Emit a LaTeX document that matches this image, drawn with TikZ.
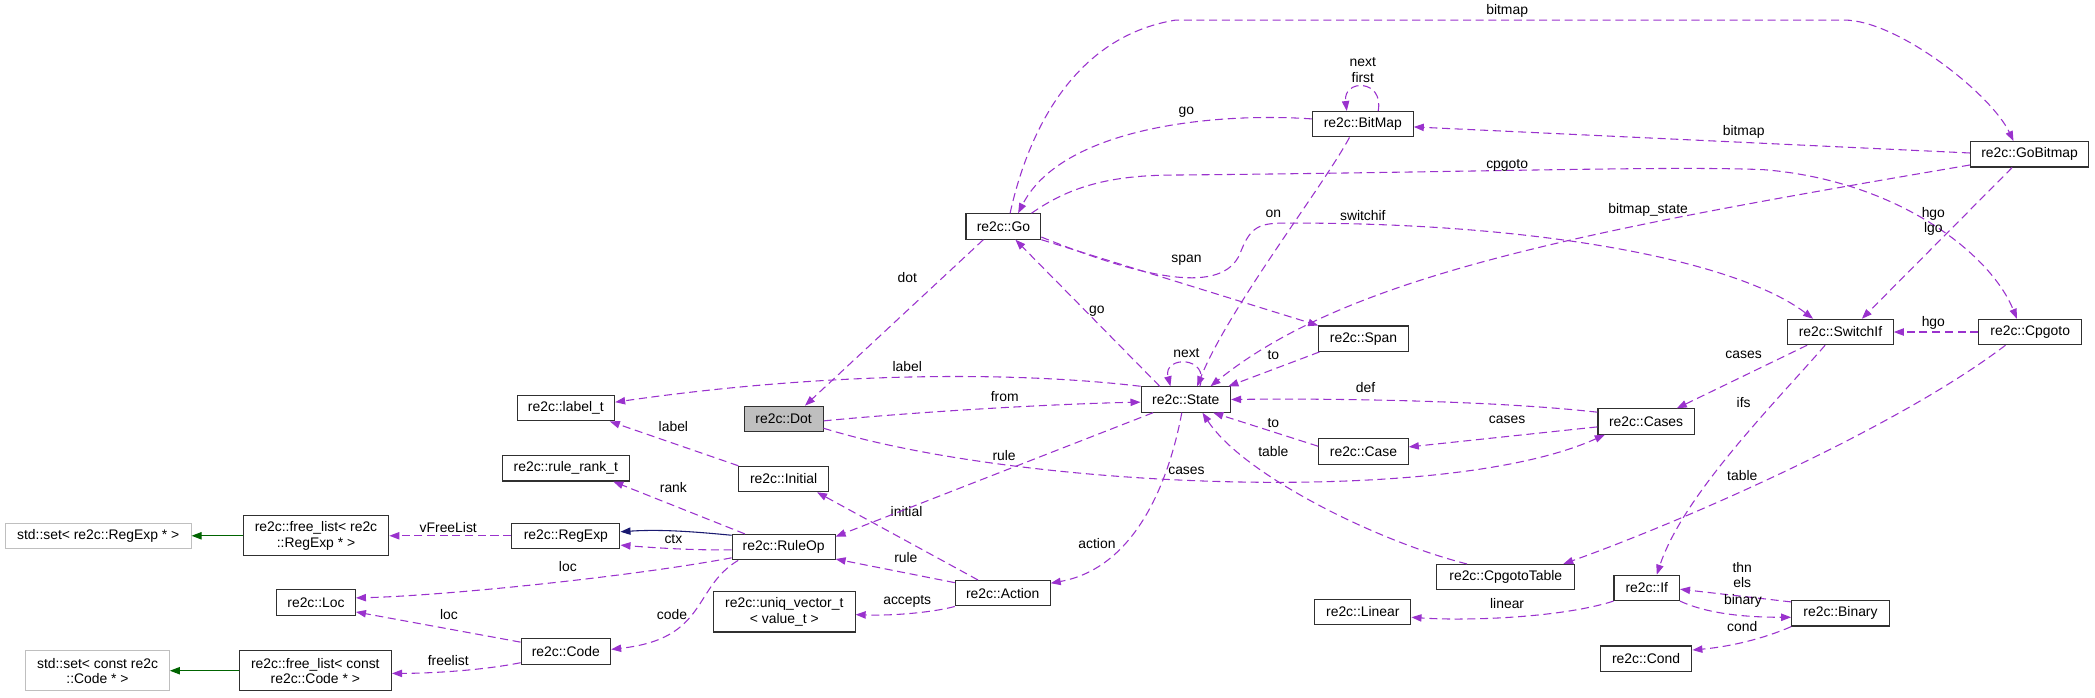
\documentclass[tikz,border=0pt]{standalone}
\usepackage{fontspec}
\newfontfamily\dxfont{Liberation Sans}
\usetikzlibrary{arrows.meta}
\definecolor{dxpurple}{HTML}{9A32CD}
\definecolor{dxnavy}{HTML}{191970}
\definecolor{dxgreen}{HTML}{006400}
\definecolor{dxgrey}{HTML}{BFBFBF}
\definecolor{dxframe}{HTML}{303030}

\begin{document}
\begin{tikzpicture}[x=1pt,y=-1pt,
  font=\dxfont\fontsize{10.4}{11.5}\selectfont,
  cls/.style={draw=dxframe,line width=0.8pt,fill=white,inner sep=2pt,
              minimum height=19pt,align=center},
  extcls/.style={cls,draw=dxgrey},
  rootcls/.style={cls,fill=dxgrey},
  mem/.style={draw=dxpurple,line width=0.8pt,dash pattern=on 6pt off 3.5pt,
              -{Triangle[length=7.5pt,width=5.5pt]}},
  inh/.style={draw=dxnavy,line width=0.8pt,-{Triangle[length=7.5pt,width=5.5pt]}},
  tmpl/.style={draw=dxgreen,line width=0.8pt,-{Triangle[length=7.5pt,width=5.5pt]}},
  lbl/.style={inner sep=0pt,align=center},
]
\useasboundingbox (0,0) rectangle (1568,521.7);
% classes
\node[extcls,minimum width=139pt] (setRegExp) at (73.5,401) {std::set< re2c::RegExp * >};
\node[cls,minimum width=109pt,minimum height=30pt] (flRegExp) at (236.5,401) {re2c::free\_list< re2c\\::RegExp * >};
\node[cls,minimum width=81pt] (RegExp) at (423.5,401) {re2c::RegExp};
\node[cls,minimum width=77pt] (RuleOp) at (586.5,409.5) {re2c::RuleOp};
\node[cls,minimum width=95pt] (rankT) at (423.5,350.5) {re2c::rule\_rank\_t};
\node[cls,minimum width=73pt] (labelT) at (423.5,305.5) {re2c::label\_t};
\node[rootcls,minimum width=59pt] (Dot) at (586.5,313.5) {re2c::Dot};
\node[cls,minimum width=67pt] (Initial) at (586.5,358.5) {re2c::Initial};
\node[cls,minimum width=59pt] (Loc) at (236.5,451) {re2c::Loc};
\node[cls,minimum width=67pt] (Code) at (423.5,487.5) {re2c::Code};
\node[extcls,minimum width=107.5pt,minimum height=30pt] (setCode) at (73,502) {std::set< const re2c\\::Code * >};
\node[cls,minimum width=114pt,minimum height=30pt] (flCode) at (236,502) {re2c::free\_list< const\\re2c::Code * >};
\node[cls,minimum width=106pt,minimum height=30pt] (uniqVec) at (587,458) {re2c::uniq\_vector\_t\\< value\_t >};
\node[cls,minimum width=71pt] (Action) at (750.5,444) {re2c::Action};
\node[cls,minimum width=67pt] (State) at (887.5,299) {re2c::State};
\node[cls,minimum width=56pt] (Go) at (751,169.5) {re2c::Go};
\node[cls,minimum width=75.5pt] (BitMap) at (1020,93) {re2c::BitMap};
\node[cls,minimum width=88.5pt] (GoBitmap) at (1519,115.5) {re2c::GoBitmap};
\node[cls,minimum width=67pt] (Span) at (1020.5,253.5) {re2c::Span};
\node[cls,minimum width=79pt] (SwitchIf) at (1377.5,248.5) {re2c::SwitchIf};
\node[cls,minimum width=77pt] (Cpgoto) at (1519.5,248.5) {re2c::Cpgoto};
\node[cls,minimum width=72pt] (Cases) at (1232,315.5) {re2c::Cases};
\node[cls,minimum width=67pt] (Case) at (1020.5,338) {re2c::Case};
\node[cls,minimum width=103.5pt] (CpgotoTable) at (1127,432) {re2c::CpgotoTable};
\node[cls,minimum width=49pt] (If) at (1232.5,440) {re2c::If};
\node[cls,minimum width=72pt] (Linear) at (1020,458) {re2c::Linear};
\node[cls,minimum width=73pt] (Binary) at (1377.5,459) {re2c::Binary};
\node[cls,minimum width=68.5pt] (Cond) at (1232,493) {re2c::Cond};
% inheritance
\draw[tmpl] (flRegExp) -- (setRegExp);
\draw[tmpl] (flCode) -- (setCode);
\draw[inh] ([yshift=-1pt]RuleOp.north west) .. controls (520,398) and (495,396) .. ([yshift=3pt]RegExp.east);
% members, left part
\draw[mem] (RegExp) -- (flRegExp) node[lbl] at (335.5,394.5) {vFreeList};
\draw[mem] ([yshift=-2pt]RuleOp.west) .. controls (520,412) and (490,410) .. ([yshift=-7pt]RegExp.east)
  node[lbl] at (504,403.5) {ctx};
\draw[mem] ([xshift=-29pt]RuleOp.north) -- ([xshift=35.5pt]rankT.south) node[lbl] at (504,365) {rank};
\draw[mem] ([yshift=-8pt]RuleOp.west) .. controls (470,432) and (330,446) .. ([yshift=3.5pt]Loc.east)
  node[lbl] at (425,424) {loc};
\draw[mem] ([xshift=-34pt]RuleOp.south) .. controls (518,440) and (530,478) .. ([yshift=1.5pt]Code.east)
  node[lbl] at (503,460) {code};
\draw[mem] ([yshift=-3pt]Code.north west) -- ([yshift=-7pt]Loc.east) node[lbl] at (336,460) {loc};
\draw[mem] ([yshift=-8.5pt]Code.west) .. controls (360,502) and (320,504) .. ([yshift=-2pt]flCode.east)
  node[lbl] at (335.5,494) {freelist};
\draw[mem] (Initial.north west) -- ([xshift=-4pt]labelT.south east) node[lbl] at (504,319.5) {label};
\draw[mem] ([xshift=-18.5pt]Action.north) -- ([xshift=25pt]Initial.south) node[lbl] at (678.5,382.5) {initial};
\draw[mem] ([yshift=-2pt]Action.north west) -- ([yshift=1pt]RuleOp.south east) node[lbl] at (678,417.5) {rule};
\draw[mem] (Action.south west) .. controls (700,458) and (670,461) .. ([yshift=-2pt]uniqVec.east)
  node[lbl] at (679,450.5) {accepts};
% members around State
\draw[mem] ([xshift=-24.5pt]State.south) -- ([yshift=-2pt]RuleOp.north east) node[lbl] at (751.5,341) {rule};
\draw[mem] ([yshift=-1.5pt]Dot.east) .. controls (700,307) and (800,302) .. ([yshift=-2pt]State.west)
  node[lbl] at (752,296.5) {from};
\draw[mem] ([yshift=-7pt]Dot.east) .. controls (760,365) and (1080,380) .. ([xshift=5.5pt]Cases.south west)
  node[lbl] at (888,352.5) {cases};
\draw[mem] (State.north west) .. controls (760,278) and (620,278) .. ([yshift=4.5pt]labelT.east)
  node[lbl] at (679,274.5) {label};
\draw[mem] ([xshift=10.5pt]State.north) .. controls (906,266) and (870,266) .. ([xshift=-11.5pt]State.north)
  node[lbl] at (888,264) {next};
\draw[mem] ([xshift=-19.5pt]State.north) -- ([xshift=9pt]Go.south) node[lbl] at (821,233) {go};
\draw[mem] ([xshift=-3pt]State.south) .. controls (875,360) and (850,425) .. ([yshift=7.5pt]Action.east)
  node[lbl] at (821,407) {action};
\draw[mem] ([xshift=-15pt]Go.south) -- ([xshift=16pt]Dot.north) node[lbl] at (679,208) {dot};
\draw[mem] (Go.south east) -- (Span.north west) node[lbl] at (888,195) {span};
\draw[mem] ([yshift=2pt]Go.south east) .. controls (860,210) and (915,220) .. (928,190)
  .. controls (935,172) and (940,167) .. (960,167) .. controls (1150,166) and (1300,195) .. ([xshift=-20.5pt]SwitchIf.north)
  node[lbl] at (1020,161) {switchif};
\draw[mem] ([xshift=5pt]Go.north) .. controls (768,105) and (800,28) .. (880,15) -- (1380,15)
  .. controls (1420,15) and (1490,70) .. ([xshift=-12pt]GoBitmap.north) node[lbl] at (1128,8) {bitmap};
\draw[mem] ([xshift=21pt]Go.north) .. controls (800,140) and (830,131) .. (880,131)
  .. controls (1100,129) and (1250,124) .. (1320,127) .. controls (1420,135) and (1490,190) .. ([xshift=-10pt]Cpgoto.north)
  node[lbl] at (1128,124) {cpgoto};
% members, right part
\draw[mem] ([yshift=4pt]BitMap.west) .. controls (910,84) and (795,95) .. ([xshift=11pt]Go.north)
  node[lbl] at (888,84) {go};
\draw[mem] ([xshift=11.5pt]BitMap.north) .. controls (1036,59) and (1005,59) .. ([xshift=-12pt]BitMap.north)
  node[lbl] at (1020,52.5) {next\\first};
\draw[mem] ([xshift=-10pt]BitMap.south) .. controls (990,140) and (920,230) .. ([xshift=8.5pt]State.north)
  node[lbl] at (953,160) {on};
\draw[mem] ([yshift=1pt]GoBitmap.west) -- ([yshift=-2pt]BitMap.east) node[lbl] at (1305,99) {bitmap};
\draw[mem] ([yshift=-8pt]GoBitmap.west) .. controls (1190,172) and (1010,205) .. ([xshift=18.5pt]State.north)
  node[lbl] at (1233.5,157) {bitmap\_state};
\draw[mem] ([xshift=-13pt]GoBitmap.south) -- ([xshift=16pt]SwitchIf.north) node[lbl] at (1447,165.5) {hgo\\lgo};
\draw[mem] ([xshift=1pt]Span.south west) -- ([xshift=-2pt]State.north east) node[lbl] at (953,266) {to};
\draw[mem] ([xshift=-25pt]SwitchIf.south) -- ([xshift=23pt]Cases.north) node[lbl] at (1305,265.5) {cases};
\draw[mem] ([yshift=7pt]Cases.west) .. controls (1120,300) and (1000,298) .. (State.east)
  node[lbl] at (1022,290) {def};
\draw[mem] ([yshift=-4pt]Cases.west) -- ([yshift=3.5pt]Case.east) node[lbl] at (1128,314.5) {cases};
\draw[mem] ([yshift=4pt]Case.west) -- ([xshift=20.5pt]State.south) node[lbl] at (953,317) {to};
\draw[mem] ([xshift=-29pt]CpgotoTable.north) .. controls (1030,405) and (930,355) .. ([xshift=12.5pt]State.south)
  node[lbl] at (953,338) {table};
\draw[mem] (Cpgoto) -- (SwitchIf) node[lbl] at (1447,242) {hgo};
\draw[mem] ([xshift=-18.5pt]Cpgoto.south) .. controls (1420,320) and (1260,390) .. ([xshift=43pt]CpgotoTable.north)
  node[lbl] at (1304,356) {table};
\draw[mem] ([xshift=-11.5pt]SwitchIf.south) .. controls (1330,300) and (1260,370) .. ([xshift=7.5pt]If.north)
  node[lbl] at (1305,301) {ifs};
\draw[mem] (If.south west) .. controls (1170,462) and (1100,465) .. ([yshift=-4pt]Linear.east)
  node[lbl] at (1128,452) {linear};
\draw[mem] ([yshift=8.5pt]Binary.west) -- ([yshift=-1pt]If.east) node[lbl] at (1304,430.5) {thn\\els};
\draw[mem] (If.south east) .. controls (1275,458) and (1300,462) .. ([yshift=-3pt]Binary.west)
  node[lbl] at (1304.5,450) {binary};
\draw[mem] ([yshift=-10pt]Binary.west) .. controls (1320,478) and (1295,484) .. ([yshift=6.5pt]Cond.east)
  node[lbl] at (1304,469) {cond};
\end{tikzpicture}
\end{document}
